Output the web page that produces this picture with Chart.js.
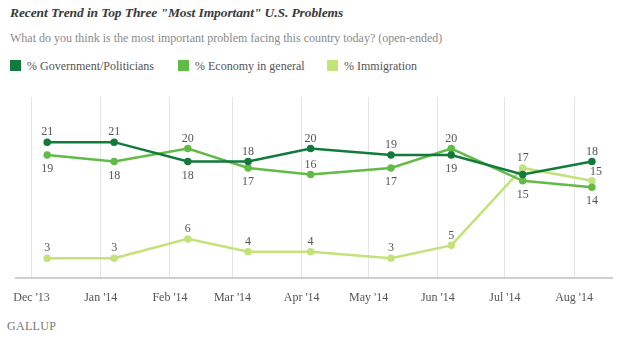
<!DOCTYPE html>
<html>
<head>
<meta charset="utf-8">
<script src="https://cdn.jsdelivr.net/npm/chart.js@4/dist/chart.umd.min.js"></script>
<style>
    body { margin: 0; background: #fff; width: 620px; height: 339px; overflow: hidden; position: relative; font-family: "Liberation Serif", "DejaVu Serif", serif; }
    .title { position: absolute; left: 10px; top: 5px; font-size: 13.5px; font-style: italic; font-weight: bold; color: #3a3a3a; letter-spacing: -0.1px; }
    .subtitle { position: absolute; left: 10px; top: 31px; font-size: 12px; color: #8a8a8a; }
    .legend { position: absolute; left: 10px; top: 59px; font-size: 12px; color: #555; }
    .legend span.item { position: absolute; white-space: nowrap; }
    .legend i { display: inline-block; width: 11px; height: 11px; vertical-align: -1px; margin-right: 6px; }
    .footer { position: absolute; left: 7px; top: 319px; font-size: 12px; color: #777; letter-spacing: 0.3px; }
    #wrap { position: absolute; left: 0; top: 82px; width: 620px; height: 236px; }
</style>
</head>
<body>
<div class="title">Recent Trend in Top Three "Most Important" U.S. Problems</div>
<div class="subtitle">What do you think is the most important problem facing this country today? (open-ended)</div>
<div class="legend" id="legend"></div>
<div id="wrap"><canvas id="trendChart"></canvas></div>
<div class="footer">GALLUP</div>

<script>
// Poll dates (field period end) and month tick marks
const pollDates = ['2013-12-08', '2014-01-07', '2014-02-09', '2014-03-08', '2014-04-05',
                   '2014-05-11', '2014-06-07', '2014-07-09', '2014-08-09'];
const monthStarts = ['2013-12-01', '2014-01-01', '2014-02-01', '2014-03-01', '2014-04-01',
                     '2014-05-01', '2014-06-01', '2014-07-01', '2014-08-01'];
const monthLabels = ["Dec '13", "Jan '14", "Feb '14", "Mar '14", "Apr '14",
                     "May '14", "Jun '14", "Jul '14", "Aug '14"];

// Series values (%)
const government = [21, 21, 18, 18, 20, 19, 19, 16, 18];
const economy    = [19, 18, 20, 17, 16, 17, 20, 15, 14];
const immigration = [3, 3, 6, 4, 4, 3, 5, 17, 15];

const seriesNames = ['% Government/Politicians', '% Economy in general', '% Immigration'];
const seriesColors = ['#127a3b', '#62bb47', '#c3e37a'];

const serifFamily = '"Liberation Serif", "Times New Roman", serif';

// Convert dates to days since Dec 1, 2013 for a linear axis
const origin = Date.UTC(2013, 11, 1);
function dayOffset(s) {
    const p = s.split('-').map(Number);
    return Math.round((Date.UTC(p[0], p[1] - 1, p[2]) - origin) / 86400000);
}
const pollDays = pollDates.map(dayOffset);
const tickDays = monthStarts.map(dayOffset);

// Build legend
const legendEl = document.getElementById('legend');
const legendX = [0, 168, 317];
legendEl.innerHTML = seriesNames.map((name, i) =>
    `<span class="item" style="left:${legendX[i]}px"><i style="background:${seriesColors[i]}"></i>${name}</span>`
).join('');

const allSeries = [government, economy, immigration];

// Draw value labels: highest nearby point above, lowest below, middle skipped (except last point)
const valueLabels = {
    id: 'valueLabels',
    afterDatasetsDraw(chart) {
        const ctx = chart.ctx;
        ctx.save();
        ctx.font = '12px ' + serifFamily;
        ctx.fillStyle = '#555';
        ctx.textAlign = 'center';
        ctx.textBaseline = 'middle';
        allSeries.forEach((values, s) => {
            const meta = chart.getDatasetMeta(s);
            values.forEach((v, i) => {
                const pt = meta.data[i];
                let higher = false, lower = false;
                allSeries.forEach((other, o) => {
                    if (o === s) return;
                    const ov = other[i];
                    if (Math.abs(ov - v) > 3) return;
                    if (ov > v || (ov === v && o < s)) higher = true;
                    else lower = true;
                });
                if (!higher) {
                    ctx.fillText(String(v), pt.x, pt.y - 10);
                } else if (!lower) {
                    ctx.fillText(String(v), pt.x, pt.y + 14);
                } else if (i === values.length - 1) {
                    ctx.fillText(String(v), pt.x + 4, pt.y - 9);
                }
            });
        });
        ctx.restore();
    }
};

new Chart(document.getElementById('trendChart'), {
    type: 'line',
    data: {
        datasets: allSeries.map((values, s) => ({
            label: seriesNames[s],
            data: values.map((v, i) => ({ x: pollDays[i], y: v })),
            borderColor: seriesColors[s],
            backgroundColor: seriesColors[s],
            borderWidth: 2.5,
            pointRadius: 2.5,
            pointHoverRadius: 2.5,
            tension: 0
        }))
    },
    options: {
        responsive: true,
        maintainAspectRatio: false,
        animation: false,
        layout: { padding: { left: 12, right: 8, top: 15, bottom: 0 } },
        plugins: {
            legend: { display: false },
            tooltip: { enabled: false }
        },
        scales: {
            x: {
                type: 'linear',
                min: -7,
                max: 260,
                afterBuildTicks: function(axis) {
                    axis.ticks = tickDays.map(d => ({ value: d }));
                },
                ticks: {
                    autoSkip: false,
                    maxRotation: 0,
                    padding: 13,
                    color: '#555',
                    font: { family: serifFamily, size: 12 },
                    callback: function(value) {
                        const idx = tickDays.indexOf(value);
                        return idx >= 0 ? monthLabels[idx] : '';
                    }
                },
                grid: {
                    color: '#e4e4e4',
                    lineWidth: 1,
                    drawTicks: false
                },
                border: { color: '#cfcfcf', width: 2 }
            },
            y: {
                min: 0,
                max: 28,
                display: false
            }
        }
    },
    plugins: [valueLabels]
});
</script>
</body>
</html>
